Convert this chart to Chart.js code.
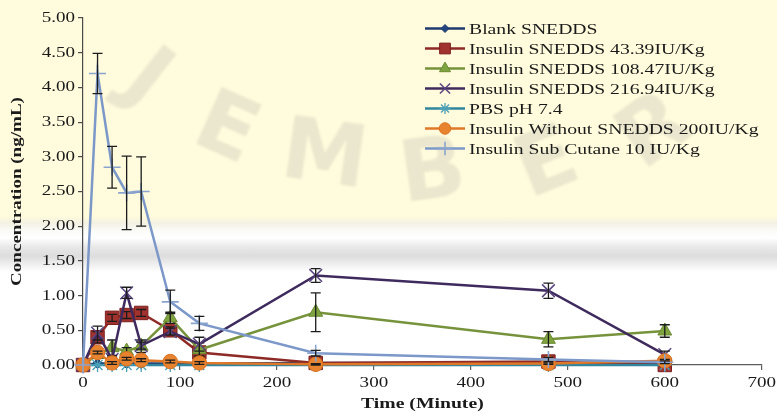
<!DOCTYPE html>
<html>
<head>
<meta charset="utf-8">
<title>Insulin plasma concentration</title>
<script src="https://cdn.jsdelivr.net/npm/chart.js@4.4.1/dist/chart.umd.min.js"></script>
<style>
  html, body { margin: 0; padding: 0; background: #ffffff; }
  #wrap {
    position: relative; width: 777px; height: 418px; overflow: hidden;
    background: linear-gradient(to bottom,
      #fffbdc 0px, #fffbdc 216px, #f3f1e2 223px, #fbfbf8 231px, #ffffff 238px,
      #e8e8e8 247px, #dddddd 256px, #f0f0f0 265px, #ffffff 272px);
  }
  .wm {
    position: absolute; width: 120px; height: 120px; line-height: 120px;
    text-align: center; font-family: "DejaVu Sans", sans-serif; font-weight: bold;
    font-size: 86px; color: rgba(150, 150, 150, 0.20); filter: blur(1.2px);
  }
  #chart { position: absolute; left: 0; top: 0; }
</style>
</head>
<body>
<div id="wrap">
  <span class="wm" style="left:90px;top:15px;transform:rotate(38deg)">J</span>
  <span class="wm" style="left:168px;top:65px;transform:rotate(24deg)">E</span>
  <span class="wm" style="left:265px;top:92px;transform:rotate(8deg)">M</span>
  <span class="wm" style="left:372px;top:108px;transform:rotate(-8deg)">B</span>
  <span class="wm" style="left:485px;top:100px;transform:rotate(-22deg)">E</span>
  <span class="wm" style="left:592px;top:68px;transform:rotate(-36deg)">R</span>
  <canvas id="chart" width="777" height="418"></canvas>
</div>
<script>
// Sampling times (minutes)
const timeMin = [0, 15, 30, 45, 60, 90, 120, 240, 480, 600];

// Series labels
const seriesNames = [
  'Blank SNEDDS',
  'Insulin SNEDDS 43.39IU/Kg',
  'Insulin SNEDDS 108.47IU/Kg',
  'Insulin SNEDDS 216.94IU/Kg',
  'PBS pH 7.4',
  'Insulin Without SNEDDS 200IU/Kg',
  'Insulin Sub Cutane 10 IU/Kg'
];

// Mean plasma insulin concentration (ng/mL)
const blankSnedds   = [0.00, 0.02, 0.02, 0.02, 0.02, 0.02, 0.02, 0.03, 0.03, 0.02];
const snedds4339    = [0.00, 0.40, 0.68, 0.72, 0.75, 0.50, 0.18, 0.03, 0.05, 0.00];
const snedds10847   = [0.00, 0.15, 0.25, 0.20, 0.27, 0.68, 0.22, 0.76, 0.37, 0.49];
const snedds21694   = [0.00, 0.46, 0.08, 1.04, 0.28, 0.48, 0.30, 1.29, 1.07, 0.15];
const pbs74         = [0.00, 0.00, 0.00, 0.00, 0.00, 0.00, 0.00, 0.00, 0.00, 0.00];
const withoutSnedds = [0.00, 0.18, 0.03, 0.09, 0.07, 0.05, 0.03, 0.01, 0.02, 0.06];
const subCutane     = [0.00, 4.20, 2.85, 2.48, 2.50, 0.91, 0.60, 0.17, 0.08, 0.04];

// Standard deviations (error bars)
const errBlank    = [0, 0, 0, 0, 0, 0, 0, 0, 0, 0];
const err4339     = [0, 0.08, 0.05, 0.05, 0.05, 0.05, 0.05, 0.02, 0.02, 0.02];
const err10847    = [0, 0.05, 0.11, 0.05, 0.09, 0.08, 0.10, 0.28, 0.11, 0.09];
const err21694    = [0, 0.10, 0.05, 0.08, 0.05, 0.05, 0.10, 0.10, 0.11, 0.05];
const errPbs      = [0, 0, 0, 0, 0, 0, 0, 0, 0, 0];
const errWithout  = [0, 0.02, 0.02, 0.02, 0.02, 0.02, 0.02, 0.01, 0.01, 0.02];
const errSubCut   = [0, 0.29, 0.30, 0.53, 0.50, 0.17, 0.10, 0.04, 0.03, 0.02];

// Axis ranges and tick steps
const xTicks = { min: 0, max: 700, step: 100 };
const yTicks = { min: 0, max: 5, step: 0.5 };

const seriesValues = [blankSnedds, snedds4339, snedds10847, snedds21694, pbs74, withoutSnedds, subCutane];
const seriesErrors = [errBlank, err4339, err10847, err21694, errPbs, errWithout, errSubCut];

const styles = [
  { line: '#1f3a6e', fill: '#22457f', stroke: '#1f3a6e', shape: 'rectRot', r: 5,   bw: 1 },
  { line: '#8e2a26', fill: '#a1322e', stroke: '#7c201d', shape: 'rect',    r: 9.5, bw: 1 },
  { line: '#76933c', fill: '#7fa43f', stroke: '#6b8a32', shape: 'triangle',r: 8,   bw: 1 },
  { line: '#3f2a5e', fill: '#3f2a5e', stroke: '#5a4680', shape: 'crossRot',r: 9,   bw: 1.5 },
  { line: '#31859c', fill: '#31859c', stroke: '#4aa0b6', shape: 'star',    r: 7,   bw: 1.3 },
  { line: '#e0782a', fill: '#e8842f', stroke: '#d9701f', shape: 'circle',  r: 7.2, bw: 1 },
  { line: '#7b98c9', fill: '#7b98c9', stroke: '#8aa4d0', shape: 'cross',   r: 8.5, bw: 1.6 }
];

const datasets = seriesNames.map((name, i) => ({
  label: name,
  data: timeMin.map((t, k) => ({ x: t, y: seriesValues[i][k] })),
  errors: seriesErrors[i],
  borderColor: styles[i].line,
  backgroundColor: styles[i].fill,
  borderWidth: 2.5,
  pointStyle: styles[i].shape,
  pointRadius: styles[i].r,
  pointHoverRadius: styles[i].r,
  pointBackgroundColor: styles[i].fill,
  pointBorderColor: styles[i].stroke,
  pointBorderWidth: styles[i].bw,
  tension: 0,
  clip: false,
  order: seriesNames.length - i
}));

const serif = '"Liberation Serif", "Times New Roman", serif';

// The serif face is drawn a little wider than its natural proportions
const TEXT_STRETCH = 1.27;
const canvas = document.getElementById('chart');
const ctx2d = canvas.getContext('2d');
const nativeFillText = ctx2d.fillText;
ctx2d.fillText = function (text, x, y, maxWidth) {
  this.save();
  this.translate(x, y);
  this.scale(TEXT_STRETCH, 1);
  if (maxWidth === undefined) nativeFillText.call(this, text, 0, 0);
  else nativeFillText.call(this, text, 0, 0, maxWidth / TEXT_STRETCH);
  this.restore();
};

// Vertical error bars with caps, drawn right after each series
const errorBars = {
  id: 'errorBars',
  afterDatasetDraw(chart, args) {
    const ds = chart.data.datasets[args.index];
    if (!ds.errors) return;
    const ctx = chart.ctx, ys = chart.scales.y, xs = chart.scales.x;
    ctx.save();
    ctx.strokeStyle = '#1c1c1c';
    ctx.lineWidth = 1.3;
    ds.data.forEach((p, k) => {
      const e = ds.errors[k];
      if (!e) return;
      const px = xs.getPixelForValue(p.x);
      const top = ys.getPixelForValue(p.y + e);
      const bot = ys.getPixelForValue(p.y - e);
      ctx.beginPath();
      ctx.moveTo(px, top); ctx.lineTo(px, bot);
      ctx.moveTo(px - 5, top); ctx.lineTo(px + 5, top);
      ctx.moveTo(px - 5, bot); ctx.lineTo(px + 5, bot);
      ctx.stroke();
    });
    ctx.restore();
  }
};

// Series key at the upper right
const seriesKey = {
  id: 'seriesKey',
  afterDraw(chart) {
    const ctx = chart.ctx;
    const x0 = 425, x1 = 465, tx = 469, y0 = 28.5, dy = 20;
    ctx.save();
    ctx.font = '15.5px ' + serif;
    ctx.textBaseline = 'middle';
    ctx.textAlign = 'left';
    chart.data.datasets.forEach((ds, i) => {
      const yy = y0 + i * dy;
      ctx.strokeStyle = ds.borderColor;
      ctx.lineWidth = 2.5;
      ctx.beginPath(); ctx.moveTo(x0, yy); ctx.lineTo(x1, yy); ctx.stroke();
      ctx.fillStyle = ds.pointBackgroundColor;
      ctx.strokeStyle = ds.pointBorderColor;
      ctx.lineWidth = ds.pointBorderWidth;
      Chart.helpers.drawPoint(ctx, {
        pointStyle: ds.pointStyle, rotation: 0,
        radius: ds.pointRadius * 0.8, borderWidth: ds.pointBorderWidth
      }, (x0 + x1) / 2, yy);
      ctx.fillStyle = '#1a1a1a';
      ctx.fillText(ds.label, tx, yy + 1);
    });
    ctx.restore();
  }
};

new Chart(canvas, {
  type: 'line',
  data: { datasets },
  plugins: [errorBars, seriesKey],
  options: {
    responsive: false,
    animation: false,
    events: [],
    layout: { padding: { top: 18, right: 15, left: 0, bottom: 0 } },
    plugins: { legend: { display: false }, tooltip: { enabled: false } },
    scales: {
      x: {
        type: 'linear',
        min: xTicks.min, max: xTicks.max,
        afterFit(s) { s.height = 53; },
        border: { display: true, color: '#5e5e5e', width: 1.2 },
        grid: { drawOnChartArea: false, drawTicks: true, tickLength: 5, color: '#5e5e5e', lineWidth: 1.2 },
        ticks: {
          stepSize: xTicks.step, padding: 4, color: '#1a1a1a',
          font: { family: serif, size: 15 }, maxRotation: 0
        },
        title: {
          display: true, text: 'Time (Minute)', color: '#1a1a1a',
          font: { family: serif, size: 15.5, weight: 'bold' },
          padding: { top: 0, bottom: 5 }
        }
      },
      y: {
        min: yTicks.min, max: yTicks.max,
        afterFit(s) { s.width = 83; },
        border: { display: true, color: '#4a4a4a', width: 1.2 },
        grid: { drawOnChartArea: false, drawTicks: true, tickLength: 5, color: '#4a4a4a', lineWidth: 1.2 },
        ticks: {
          stepSize: yTicks.step, padding: 3, color: '#1a1a1a',
          font: { family: serif, size: 15 },
          callback: v => Number(v).toFixed(2)
        },
        title: {
          display: true, text: 'Concentration (ng/mL)', color: '#1a1a1a',
          font: { family: serif, size: 15, weight: 'bold' },
          padding: { top: 8, bottom: 0 }
        }
      }
    }
  }
});
</script>
</body>
</html>
